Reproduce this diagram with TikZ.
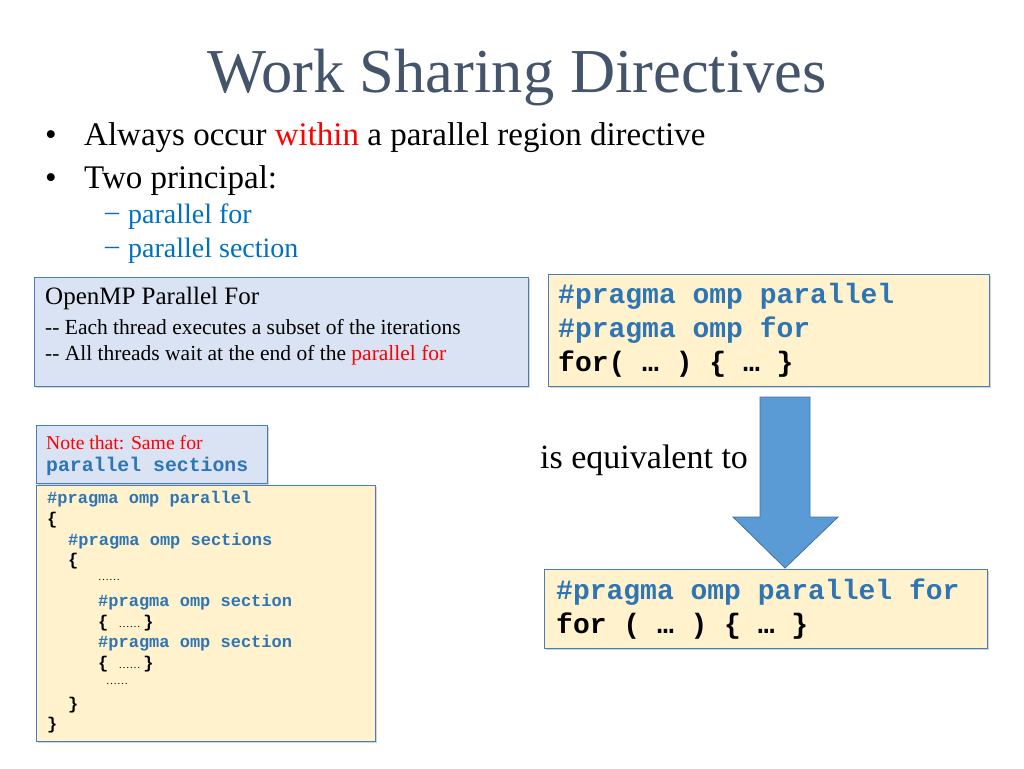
\documentclass[tikz,border=0pt]{standalone}
\usepackage{fontspec}
\setmainfont{Liberation Serif}
\setmonofont{Liberation Mono}
\usetikzlibrary{positioning,shadows}
\definecolor{titlegray}{HTML}{44546A}
\definecolor{subblue}{HTML}{0070C0}
\definecolor{codeblue}{HTML}{2E75B6}
\definecolor{boxblue}{HTML}{DAE3F3}
\definecolor{boxyellow}{HTML}{FFF2CC}
\definecolor{edgeblue}{HTML}{4A7EBB}
\definecolor{arrowfill}{HTML}{5B9BD5}
\definecolor{arrowedge}{HTML}{41719C}
\newcommand{\fs}[1]{\fontsize{#1}{#1}\selectfont}
\newcommand{\pr}[1]{\textcolor{codeblue}{#1}}
\tikzset{
  panel/.style={draw=edgeblue, line width=0.8pt, drop shadow={shadow xshift=2pt, shadow yshift=-2pt, opacity=0.35}},
  bluepanel/.style={panel, fill=boxblue},
  yellowpanel/.style={panel, fill=boxyellow},
  txt/.style={anchor=west, inner sep=0pt},
}
\begin{document}
\begin{tikzpicture}[x=1pt,y=-1pt]
    \useasboundingbox (0,0) rectangle (1024,768);

    % title and bullets
    \node[text=titlegray] (title) at (517,78) {\fs{62.5}Work Sharing Directives};
    \node[txt] (b1) at (45,138) {\fs{33}\textbullet};
    \node[txt] (t1) at (84,138) {\fs{33}Always occur \textcolor{red}{within} a parallel region directive};
    \node[txt] (b2) at (45,181) {\fs{33}\textbullet};
    \node[txt] (t2) at (84,181) {\fs{33}Two principal:};
    \node[txt, text=subblue] (d1) at (105,217) {\fs{28}–};
    \node[txt, text=subblue] (s1) at (128,217) {\fs{28}parallel for};
    \node[txt, text=subblue] (d2) at (105,251) {\fs{28}–};
    \node[txt, text=subblue] (s2) at (128,251) {\fs{28}parallel section};

    % parallel for explanation
    \filldraw[bluepanel] (34,277) rectangle (528,386);
    \node[txt] (pf1) at (45,298) {\fs{25}OpenMP Parallel For};
    \node[txt] (pf2) at (45,327) {\fs{21.5}-{}- Each thread executes a subset of the iterations};
    \node[txt] (pf3) at (45,355) {\fs{21.5}-{}- All threads wait at the end of the \textcolor{red}{parallel for}};

    % two directives
    \filldraw[yellowpanel] (548,274) rectangle (989,386);
    \begin{scope}[every node/.style={txt, font=\ttfamily\bfseries\fs{28}}]
        \node (c1) at (558,296) {\pr{\#pragma omp parallel}};
        \node (c2) at (558,330) {\pr{\#pragma omp for}};
        \node (c3) at (558,364) {for( … ) \{ … \}};
    \end{scope}

    % note
    \filldraw[bluepanel] (36,425) rectangle (267,483);
    \node[txt, text=red] (n1) at (46,443) {\fs{19.7}Note that: Same for};
    \node[txt, text=codeblue] (n2) at (46,466) {\ttfamily\bfseries\fs{19.8}parallel sections};

    % sections code
    \filldraw[yellowpanel] (36,485) rectangle (375,741);
    \begin{scope}[every node/.style={txt, font=\ttfamily\bfseries\fs{17}}]
        \node at (47,499) {\pr{\#pragma omp parallel}};
        \node at (47,520) {\{};
        \node at (68,541) {\pr{\#pragma omp sections}};
        \node at (68,561) {\{};
        \node at (98,580) {\normalfont\fs{11}……};
        \node at (98,602) {\pr{\#pragma omp section}};
        \node at (98,623) {\{ \normalfont\fs{11}……\ \ttfamily\bfseries\fs{17}\}};
        \node at (98,643) {\pr{\#pragma omp section}};
        \node at (98,664) {\{ \normalfont\fs{11}……\ \ttfamily\bfseries\fs{17}\}};
        \node at (106,684) {\normalfont\fs{11}……};
        \node at (68,705) {\}};
        \node at (47,725) {\}};
    \end{scope}

    % equivalence
    \node[txt] (eq) at (540,460) {\fs{34}is equivalent to};
    \filldraw[fill=arrowfill, draw=arrowedge, line width=0.8pt]
        (760,397) -- (810,397) -- (810,517) -- (838,517) -- (785,568)
        -- (733,517) -- (760,517) -- cycle;

    % combined directive
    \filldraw[yellowpanel] (544,569) rectangle (987,648);
    \begin{scope}[every node/.style={txt, font=\ttfamily\bfseries\fs{28}}]
        \node (e1) at (556,592) {\pr{\#pragma omp parallel for}};
        \node (e2) at (556,626) {for ( … ) \{ … \}};
    \end{scope}
\end{tikzpicture}
\end{document}
